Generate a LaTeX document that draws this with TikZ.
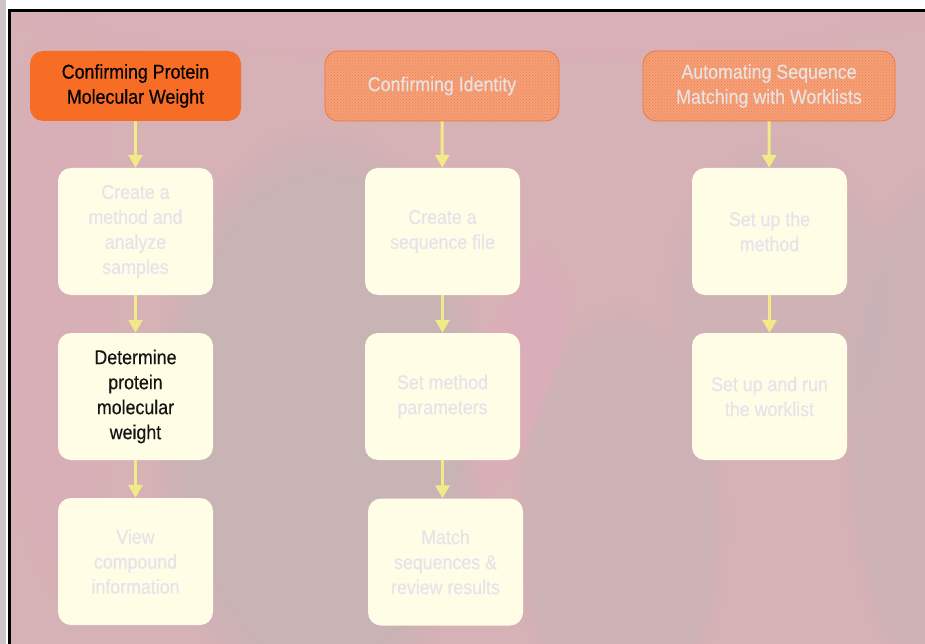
\documentclass[tikz,border=0pt]{standalone}
\usepackage{fontspec}
\setmainfont{Liberation Sans}[FakeStretch=0.89,FakeBold=0.35]
\usetikzlibrary{arrows.meta,patterns,fadings}

\definecolor{pagegray}{HTML}{CEC6C6}
\definecolor{bgpink}{HTML}{D6B1B5}
\definecolor{bgshade}{HTML}{C3B4B5}
\definecolor{bgrose}{HTML}{DEADBC}
\definecolor{headorange}{HTML}{F86D26}
\definecolor{headpale}{HTML}{F5A078}
\definecolor{headdot}{HTML}{EE7E48}
\definecolor{headedge}{HTML}{F0773A}
\definecolor{headtext}{HTML}{E9E2E2}
\definecolor{cream}{HTML}{FFFDE6}
\definecolor{fainttext}{HTML}{E5E4EB}
\definecolor{arrowyellow}{HTML}{F2EA86}

\tikzset{
  label font/.style={font=\fontsize{20}{25}\selectfont},
  headbox/.style={rectangle, rounded corners=13pt, inner sep=0pt,
    minimum height=70pt, align=center, label font},
  activehead/.style={headbox, fill=headorange, text=black},
  idlehead/.style={headbox, fill=headpale, draw=headedge, line width=0.8pt,
    text=headtext, postaction={pattern=crosshatch dots, pattern color=headdot}},
  stepbox/.style={rectangle, rounded corners=13pt, inner sep=0pt,
    minimum width=155pt, minimum height=127pt, fill=cream,
    text=fainttext, align=center, label font},
  activestep/.style={stepbox, text=black!92},
  flow/.style={draw=arrowyellow, line width=3pt,
    -{Triangle[width=14pt,length=13pt,fill=arrowyellow]}},
  haze/.style={path fading=circle with fuzzy edge 20 percent}
}

\begin{document}
\begin{tikzpicture}[x=1pt,y=-1pt]
  \useasboundingbox (0,0) rectangle (925,644);

  % page margin and frame
  \fill[white] (0,0) rectangle (925,644);
  \fill[pagegray] (0,0) rectangle (6,644);
  \fill[bgpink] (11,12) rectangle (925,644);

  % faded backdrop shapes
  \begin{scope}
    \clip (11,12) rectangle (925,644);
    \fill[bgshade, haze, opacity=0.7] (320,420) ellipse (170pt and 300pt);
    \fill[bgshade, haze, opacity=0.5] (620,520) ellipse (110pt and 220pt);
    \fill[bgshade, haze, opacity=0.5] (930,430) ellipse (90pt and 260pt);
    \fill[bgshade, haze, opacity=0.35] (780,300) ellipse (120pt and 160pt);
    \fill[bgrose, haze, opacity=0.6, rotate around={-20:(515,370)}] (515,370) ellipse (38pt and 150pt);
    \fill[bgrose, haze, opacity=0.45] (470,20) ellipse (460pt and 40pt);
    \fill[bgrose, haze, opacity=0.35] (60,300) ellipse (60pt and 300pt);
  \end{scope}

  \draw[black, line width=3pt] (9.5,644) -- (9.5,10.5) -- (925,10.5);

  % column headers
  \node[activehead, minimum width=211pt] (h1) at (135.5,86)
    {Confirming Protein\\Molecular Weight};
  \node[idlehead, minimum width=234pt] (h2) at (442,86)
    {Confirming Identity};
  \node[idlehead, minimum width=252pt] (h3) at (769,86)
    {Automating Sequence\\Matching with Worklists};

  % first column
  \node[stepbox] (a1) at (135.5,231.5) {Create a\\method and\\analyze\\samples};
  \node[activestep] (a2) at (135.5,396.5) {Determine\\protein\\molecular\\weight};
  \node[stepbox] (a3) at (135.5,561.5) {View\\compound\\information};

  % second column
  \node[stepbox] (b1) at (442.5,231.5) {Create a\\sequence file};
  \node[stepbox] (b2) at (442.5,396.5) {Set method\\parameters};
  \node[stepbox] (b3) at (445.5,562) {Match\\sequences \&\\review results};

  % third column
  \node[stepbox] (c1) at (769.5,231.5) {Set up the\\method};
  \node[stepbox] (c2) at (769.5,396.5) {Set up and run\\the worklist};

  % connectors
  \draw[flow] (h1) -- (a1);
  \draw[flow] (a1) -- (a2);
  \draw[flow] (a2) -- (a3);
  \draw[flow] (h2) -- (b1);
  \draw[flow] (b1) -- (b2);
  \draw[flow] (b2.south) -- (b2.south |- b3.north);
  \draw[flow] (h3) -- (c1);
  \draw[flow] (c1) -- (c2);
\end{tikzpicture}
\end{document}
